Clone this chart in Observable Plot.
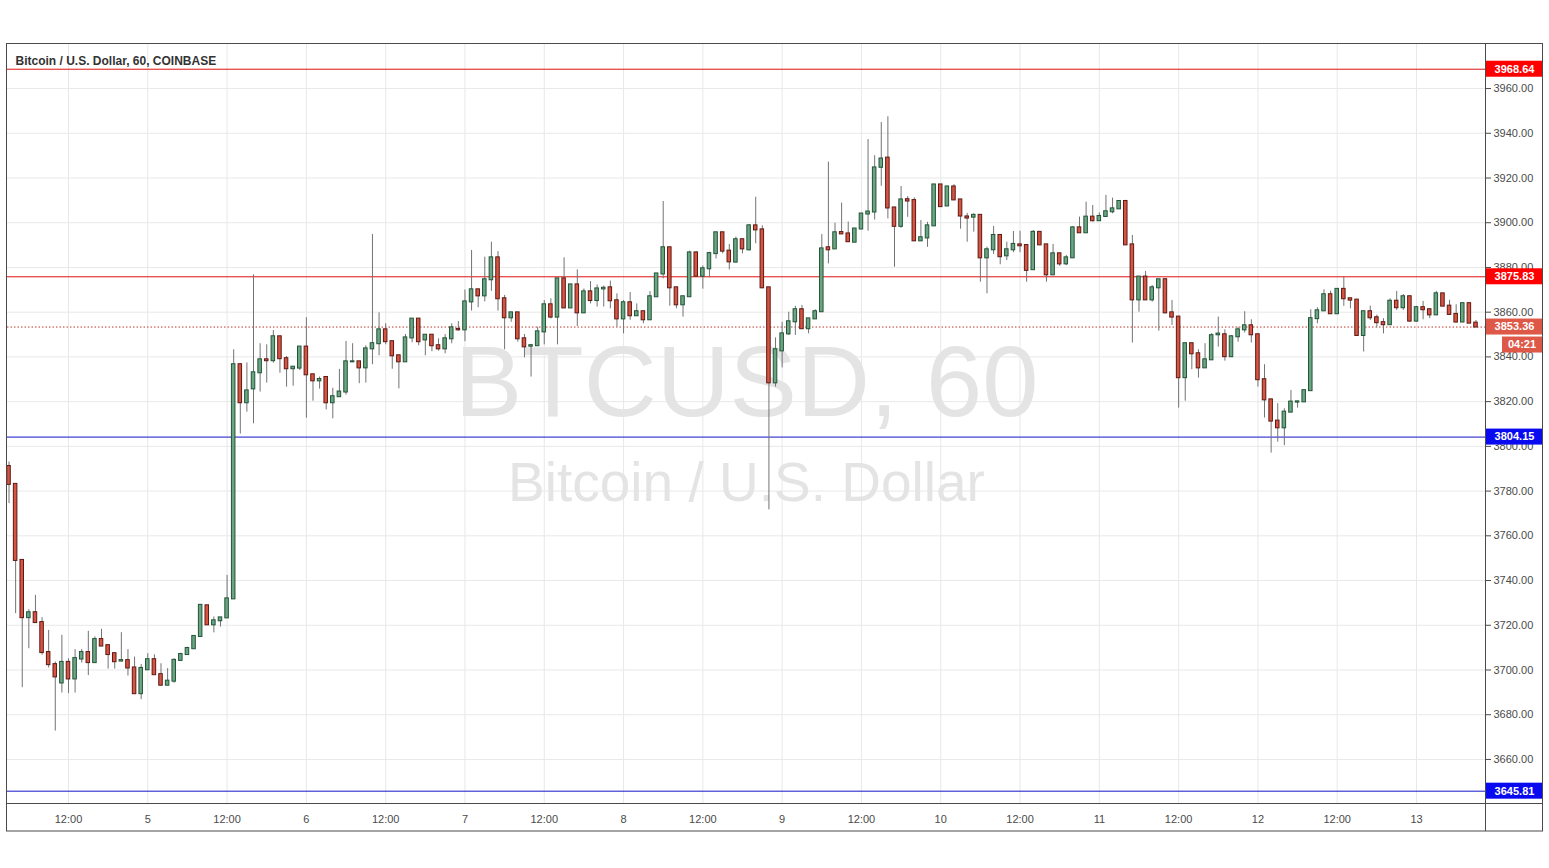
<!DOCTYPE html>
<html><head><meta charset="utf-8">
<script src="https://cdn.jsdelivr.net/npm/d3@7"></script>
<script src="https://cdn.jsdelivr.net/npm/@observablehq/plot@0.6"></script>
<style>
html,body{margin:0;padding:0;background:#fff;}
#chart svg{display:block;}
</style></head><body><div id="chart"></div>
<script>
// Hourly bars, Bitcoin / U.S. Dollar (COINBASE), first bar 2019-01-04 03:00 UTC
const startMs = Date.UTC(2019, 0, 4, 3);
const opens = [3791,3783,3749,3723.4,3725.6,3721.2,3707.8,3702.4,3694.2,3703.4,
3696.0,3704.9,3707.8,3703.3,3713.6,3710.9,3707.3,3704.0,3704.2,3700.9,
3689.4,3700.1,3704.6,3697.9,3693.2,3695.0,3704.3,3706.9,3709.5,3715.0,
3728.7,3720.2,3722.0,3723.3,3731.8,3836.5,3819.5,3825.7,3832.9,3838.7,
3838.3,3849.0,3839.2,3834.7,3835.0,3844.4,3832.0,3829.3,3830.8,3819.5,
3822.2,3824.3,3837.8,3837.8,3835.1,3843.6,3845.9,3852.1,3846.8,3840.5,
3837.8,3848.5,3856.9,3847.6,3849.7,3845.0,3843.6,3848.1,3852.3,3852.1,
3864.6,3870.0,3867.3,3874.5,3884.3,3866.0,3857.5,3859.7,3848.1,3844.8,
3845.0,3851.2,3863.3,3857.8,3874.9,3861.9,3872.2,3859.7,3869.1,3865.2,
3870.4,3870.9,3865.1,3857.0,3864.2,3858.4,3860.2,3856.6,3866.9,3877.1,
3888.8,3870.9,3863.3,3866.9,3886.5,3876.1,3879.4,3886.2,3895.5,3887.3,
3882.4,3892.4,3887.9,3898.6,3896.8,3870.9,3828.4,3842.7,3850.3,3855.7,
3861.1,3852.6,3857.0,3860.2,3888.8,3888.3,3895.6,3895.0,3891.3,3897.2,
3903.9,3904.8,3924.8,3928.9,3906.6,3898.4,3910.3,3909.9,3891.9,3893.2,
3898.6,3916.9,3907.5,3916.0,3910.2,3902.6,3902.5,3903.3,3884.3,3887.9,
3894.3,3885.2,3887.9,3890.1,3889.8,3879.0,3895.7,3890.1,3876.7,3886.1,
3881.6,3884.3,3897.7,3895.5,3902.5,3900.9,3902.8,3904.9,3906.2,3909.5,
3890.1,3865.5,3875.7,3865.5,3870.9,3874.5,3859.7,3857.8,3830.7,3845.9,
3841.4,3835.1,3838.7,3849.9,3849.9,3840.1,3849.0,3852.1,3853.9,3849.9,
3829.8,3820.8,3811.3,3808.3,3815.3,3819.8,3819.9,3824.9,3857.1,3860.6,
3867.8,3859.3,3870.2,3866.0,3865.4,3849.6,3860.2,3857.5,3855.3,3854.4,
3864.9,3862.0,3866.9,3856.0,3862.0,3861.1,3858.8,3868.2,3862.7,3859.0,
3855.6,3863.8,3855.1];
const highs = [3793,3783,3749,3727,3733.4,3723.4,3717.7,3703.6,3715.5,3705,
3709.1,3709.2,3717.3,3714.8,3718.2,3710.9,3707.3,3716.7,3709.1,3705.8,
3702.5,3707.3,3706.8,3702.8,3700.6,3705.0,3707.5,3710.2,3715.0,3729.3,
3728.7,3723.7,3723.3,3742.3,3843.2,3837,3837.3,3876.7,3845.9,3845.4,
3851.8,3849.0,3840.2,3835.4,3844.4,3857.5,3832.0,3831.0,3830.8,3826.0,
3834.4,3846.9,3845.9,3837.8,3845.0,3894.7,3859.7,3854.8,3846.8,3840.5,
3850.0,3856.9,3856.9,3849.7,3849.7,3848.1,3850.0,3854.8,3855.8,3869.9,
3887.6,3870.0,3884.6,3891.3,3887.1,3867.5,3859.7,3859.7,3850.0,3845.6,
3853.3,3865.2,3866.0,3874.9,3884.3,3872.2,3878.9,3870.4,3873.7,3872.2,
3871.7,3873.9,3868.2,3865.2,3868.8,3863.7,3860.2,3869.2,3877.1,3909.5,
3888.8,3870.9,3866.9,3887.3,3887.0,3880.7,3886.8,3895.5,3895.5,3890.3,
3893.6,3892.7,3899.2,3911.4,3898.6,3870.9,3848.5,3855.5,3860.0,3862.6,
3863.0,3857.0,3861.1,3894.7,3927.1,3899.8,3908.8,3900.3,3897.2,3903.9,
3937.2,3930.0,3944.8,3947.4,3906.9,3916.2,3911.7,3911.1,3901.0,3900.2,
3916.9,3916.9,3916.0,3917.0,3910.2,3904.2,3904.0,3903.3,3889.1,3898.3,
3894.3,3891.3,3896.1,3896.2,3889.8,3896.5,3895.7,3890.1,3890.3,3886.1,
3885.4,3898.3,3902.5,3909.2,3907.7,3904.4,3912.2,3911.0,3909.9,3910.0,
3894.3,3875.7,3878.2,3871.9,3874.5,3874.9,3865.2,3858.1,3845.9,3845.9,
3843.2,3845.9,3850.4,3857.8,3852.1,3849.5,3853.3,3860.2,3856.6,3849.9,
3836.5,3820.8,3819.1,3816.8,3825.0,3819.9,3824.9,3861.1,3862.0,3870.0,
3869.4,3870.5,3875.7,3866.0,3865.4,3860.2,3862.7,3858.7,3857.1,3866.0,
3869.3,3867.9,3867.3,3862.6,3864.8,3861.5,3869.3,3868.2,3865.3,3863.3,
3864.1,3863.8,3856.3];
const lows = [3774.4,3725.2,3692.1,3709.5,3721.2,3706.6,3700.9,3672.7,3689.7,3689.4,
3689.7,3703.1,3697.5,3703.3,3710.7,3700.4,3700.4,3703.7,3697.3,3689.4,
3686.7,3700.1,3697.9,3692.8,3693.2,3694.1,3704.3,3706.9,3709.5,3715.0,
3720.2,3716.6,3719.2,3723.3,3731.8,3805.5,3815.3,3810.1,3824.3,3828.3,
3837.2,3832.7,3826.5,3826.9,3833.9,3812.6,3820.2,3825.6,3816.3,3812.3,
3822.2,3822.9,3837.8,3828.0,3828.3,3836.5,3840.5,3845.4,3834.5,3825.7,
3837.8,3846.3,3845.0,3840.5,3842.3,3842.6,3841.4,3845.9,3851.5,3846.8,
3860.5,3862.0,3864.6,3869.3,3860.5,3843.2,3855.5,3846.6,3839.6,3831.0,
3845.0,3845.4,3857.0,3845.4,3861.9,3861.9,3853.6,3859.7,3863.7,3862.3,
3862.3,3861.5,3853.3,3850.3,3856.4,3858.4,3854.8,3856.6,3866.9,3874.9,
3862.7,3861.5,3857.8,3866.9,3876.1,3870.3,3875.4,3883.8,3886.1,3878.9,
3882.0,3886.1,3887.3,3890.6,3870.5,3771.6,3826.5,3835.1,3849.6,3849.6,
3852.6,3850.3,3857.0,3860.2,3881.6,3888.3,3895.0,3891.3,3891.3,3897.2,
3896.2,3901.2,3916.3,3901.7,3880.1,3897.5,3902.4,3891.9,3891.9,3889.0,
3898.6,3907.2,3907.5,3910.2,3897.1,3891.3,3895.8,3873.4,3868.2,3885.8,
3881.2,3883.1,3886.6,3886.6,3873.4,3879.0,3890.1,3873.4,3876.7,3880.5,
3880.8,3884.3,3895.5,3895.5,3900.3,3900.9,3902.8,3904.0,3906.2,3890.1,
3846.2,3860.0,3865.5,3864.5,3851.5,3859.3,3854.1,3817.1,3820.2,3834.3,
3830.5,3835.1,3838.7,3844.4,3838.1,3840.1,3846.6,3850.7,3846.2,3826.5,
3812.7,3797.0,3801.9,3800.3,3815.3,3817.1,3819.9,3824.9,3854.8,3860.6,
3859.3,3859.3,3862.6,3861.5,3849.2,3842.2,3856.3,3853.0,3850.3,3854.4,
3860.8,3860.8,3855.6,3855.6,3856.6,3857.1,3858.8,3862.7,3859.0,3855.1,
3855.6,3855.1,3853.4];
const closes = [3783,3749,3723.4,3725.6,3721.2,3707.8,3702.4,3696.9,3703.4,3696.0,
3705.1,3707.8,3703.3,3713.6,3710.7,3706.9,3703.7,3704.2,3700.9,3689.4,
3700.7,3704.6,3697.9,3693.2,3695.0,3704.3,3706.9,3709.6,3715.0,3728.9,
3720.2,3722.0,3723.3,3731.8,3836.5,3819.5,3824.8,3832.9,3838.7,3838.3,
3849.0,3839.2,3834.7,3835.4,3844.4,3832.0,3829.3,3829.9,3819.5,3822.2,
3824.3,3837.8,3837.8,3835.1,3843.6,3845.9,3852.1,3846.8,3840.5,3837.8,
3848.5,3856.9,3846.8,3849.7,3845.0,3843.6,3848.1,3853.0,3852.1,3864.6,
3870.0,3867.3,3874.5,3884.3,3866.0,3857.5,3859.7,3848.1,3844.5,3845.0,
3851.2,3863.3,3857.8,3874.9,3861.9,3872.2,3859.7,3869.1,3865.2,3870.4,
3870.7,3865.1,3857.0,3864.2,3858.4,3860.2,3856.6,3866.9,3877.1,3888.8,
3870.9,3863.3,3866.9,3886.5,3876.1,3879.4,3886.2,3895.5,3887.3,3882.5,
3892.4,3888.3,3898.6,3896.8,3870.9,3828.4,3843.2,3850.3,3855.7,3861.1,
3852.6,3857.0,3860.2,3888.3,3887.9,3895.5,3895.0,3891.5,3897.2,3903.9,
3904.8,3924.5,3928.5,3906.6,3898.4,3910.2,3909.7,3891.9,3893.3,3898.6,
3916.9,3907.2,3916.0,3910.2,3903.0,3902.1,3903.3,3884.3,3887.9,3894.3,
3884.8,3887.9,3890.3,3889.7,3878.7,3895.7,3890.1,3876.7,3886.1,3881.6,
3884.3,3897.7,3895.5,3902.5,3900.9,3902.8,3904.9,3906.2,3909.5,3890.1,
3865.5,3875.7,3865.5,3870.9,3874.5,3859.7,3857.8,3830.7,3845.9,3841.4,
3835.1,3838.7,3849.5,3850.2,3840.1,3849.0,3852.1,3853.9,3849.9,3829.8,
3820.8,3811.3,3808.3,3815.3,3819.8,3819.9,3824.9,3857.1,3860.6,3867.8,
3859.3,3870.2,3866.0,3865.4,3849.6,3860.2,3857.5,3855.3,3854.4,3864.9,
3862.0,3866.9,3856.0,3862.0,3861.1,3858.8,3868.2,3862.7,3859.0,3855.6,
3863.8,3855.1,3853.36];

// horizontal levels drawn on the chart
const levelPrices = [3968.64, 3875.83, 3804.15, 3645.81];
const levelKinds  = ["resistance", "resistance", "support", "support"];
const lastPrice = 3853.36;
const countdown = "04:21";
const yTickValues = d3.range(3660, 3961, 20);
const titleText = "Bitcoin / U.S. Dollar, 60, COINBASE";
const watermark1 = "BTCUSD, 60";
const watermark2 = "Bitcoin / U.S. Dollar";

const HOUR = 3600e3;
const bars = opens.map((o, i) => ({
  t: new Date(startMs + i * HOUR), o, h: highs[i], l: lows[i], c: closes[i], up: closes[i] >= o
}));
const levels = levelPrices.map((p, i) => ({price: p, kind: levelKinds[i]}));
const lineColor = {resistance: "#e01010", support: "#1414c8"};
const boxColor = {resistance: "#ff0000", support: "#0a0af0"};

const xDomain = [new Date(startMs - 0.23 * HOUR), new Date(startMs + (bars.length - 1 + 1.44) * HOUR)];
const xTickValues = d3.utcHour.every(12).range(xDomain[0], xDomain[1]);
const half = 16 * 60e3;
const FONT = "'Liberation Sans', Arial, sans-serif";

const W = 1549, H = 868, mT = 44, mB = 65, mL = 7, mR = 64;

const plot = Plot.plot({
  width: W, height: H,
  marginTop: mT, marginBottom: mB, marginLeft: mL, marginRight: mR,
  style: {fontFamily: FONT, fontSize: "11px", background: "#fff", overflow: "visible"},
  x: {type: "utc", domain: xDomain},
  y: {domain: [3640.3, 3979.7]},
  marks: [
    Plot.gridY(yTickValues, {stroke: "#e8e8e8", strokeOpacity: 1}),
    Plot.gridX(xTickValues, {stroke: "#e8e8e8", strokeOpacity: 1}),
    Plot.text([watermark1], {frameAnchor: "middle", dy: -40, fontSize: 101, fill: "#e4e4e4", fontFamily: FONT}),
    Plot.text([watermark2], {frameAnchor: "middle", dy: 59, fontSize: 55, fill: "#e4e4e4", fontFamily: FONT}),
    Plot.ruleY(levels, {y: "price", stroke: d => lineColor[d.kind], strokeWidth: 1}),
    Plot.ruleY([lastPrice], {stroke: "#c0392b", strokeDasharray: "1.5,2", strokeWidth: 1}),
    Plot.ruleX(bars, {x: "t", y1: "l", y2: "h", stroke: "#737375", strokeWidth: 1}),
    Plot.rect(bars, {
      x1: d => new Date(+d.t - half), x2: d => new Date(+d.t + half),
      y1: d => Math.min(d.o, d.c), y2: d => Math.max(d.o, d.c),
      insetTop: -0.5, insetBottom: -0.5,
      fill: d => d.up ? "#6ba583" : "#d75442",
      stroke: d => d.up ? "#225437" : "#5b1a13", strokeWidth: 1
    }),
    Plot.axisY(yTickValues, {anchor: "right", tickSize: 5, tickPadding: 3, tickFormat: d3.format(".2f"), label: null, color: "#4a4a4a", fontSize: 11}),
    Plot.axisX(xTickValues, {anchor: "bottom", tickSize: 0, tickPadding: 12, label: null, color: "#4a4a4a", fontSize: 11,
      tickFormat: d => d.getUTCHours() === 0 ? String(d.getUTCDate()) : "12:00"}),
    Plot.text([titleText], {frameAnchor: "top-left", dx: 8, dy: 12, fontSize: 12, fontWeight: "bold", fill: "#333", textAnchor: "start", fontFamily: FONT})
  ]
});

document.getElementById("chart").appendChild(plot);

// frame, separators and price tags in the price-axis column
const ys = plot.scale("y");
const svg = d3.select(plot);
const right = W - mR;
const g = svg.append("g");
g.append("rect").attr("x", 6.5).attr("y", mT - 0.5).attr("width", W - 13).attr("height", H - mB + 28 - mT + 0.5)
  .attr("fill", "none").attr("stroke", "#4a4a4a");
g.append("line").attr("x1", right + 0.5).attr("x2", right + 0.5).attr("y1", mT).attr("y2", H - mB + 28).attr("stroke", "#4a4a4a");
g.append("line").attr("x1", mL).attr("x2", W - 6).attr("y1", H - mB + 0.5).attr("y2", H - mB + 0.5).attr("stroke", "#4a4a4a");

const tags = levels.map(d => ({price: d.price, fill: boxColor[d.kind], label: d.price.toFixed(2)}));
tags.push({price: lastPrice, fill: "#dd5847", label: lastPrice.toFixed(2)});
for (const t of tags) {
  const yy = ys.apply(t.price);
  g.append("rect").attr("x", right + 1).attr("y", yy - 8).attr("width", W - 7 - right - 1).attr("height", 16).attr("fill", t.fill);
  g.append("text").attr("x", (right + W - 7) / 2 + 1).attr("y", yy).attr("dy", "0.35em").attr("text-anchor", "middle")
    .attr("font-family", FONT).attr("font-size", 11).attr("font-weight", "bold").attr("fill", "#fff").text(t.label);
}
{
  const yy = ys.apply(lastPrice) + 10;
  g.append("rect").attr("x", right + 17).attr("y", yy).attr("width", W - 7 - right - 17).attr("height", 16).attr("fill", "#dd5847");
  g.append("text").attr("x", (right + 17 + W - 7) / 2).attr("y", yy + 8).attr("dy", "0.35em").attr("text-anchor", "middle")
    .attr("font-family", FONT).attr("font-size", 11).attr("font-weight", "bold").attr("fill", "#fff").text(countdown);
}
</script>
</body></html>
